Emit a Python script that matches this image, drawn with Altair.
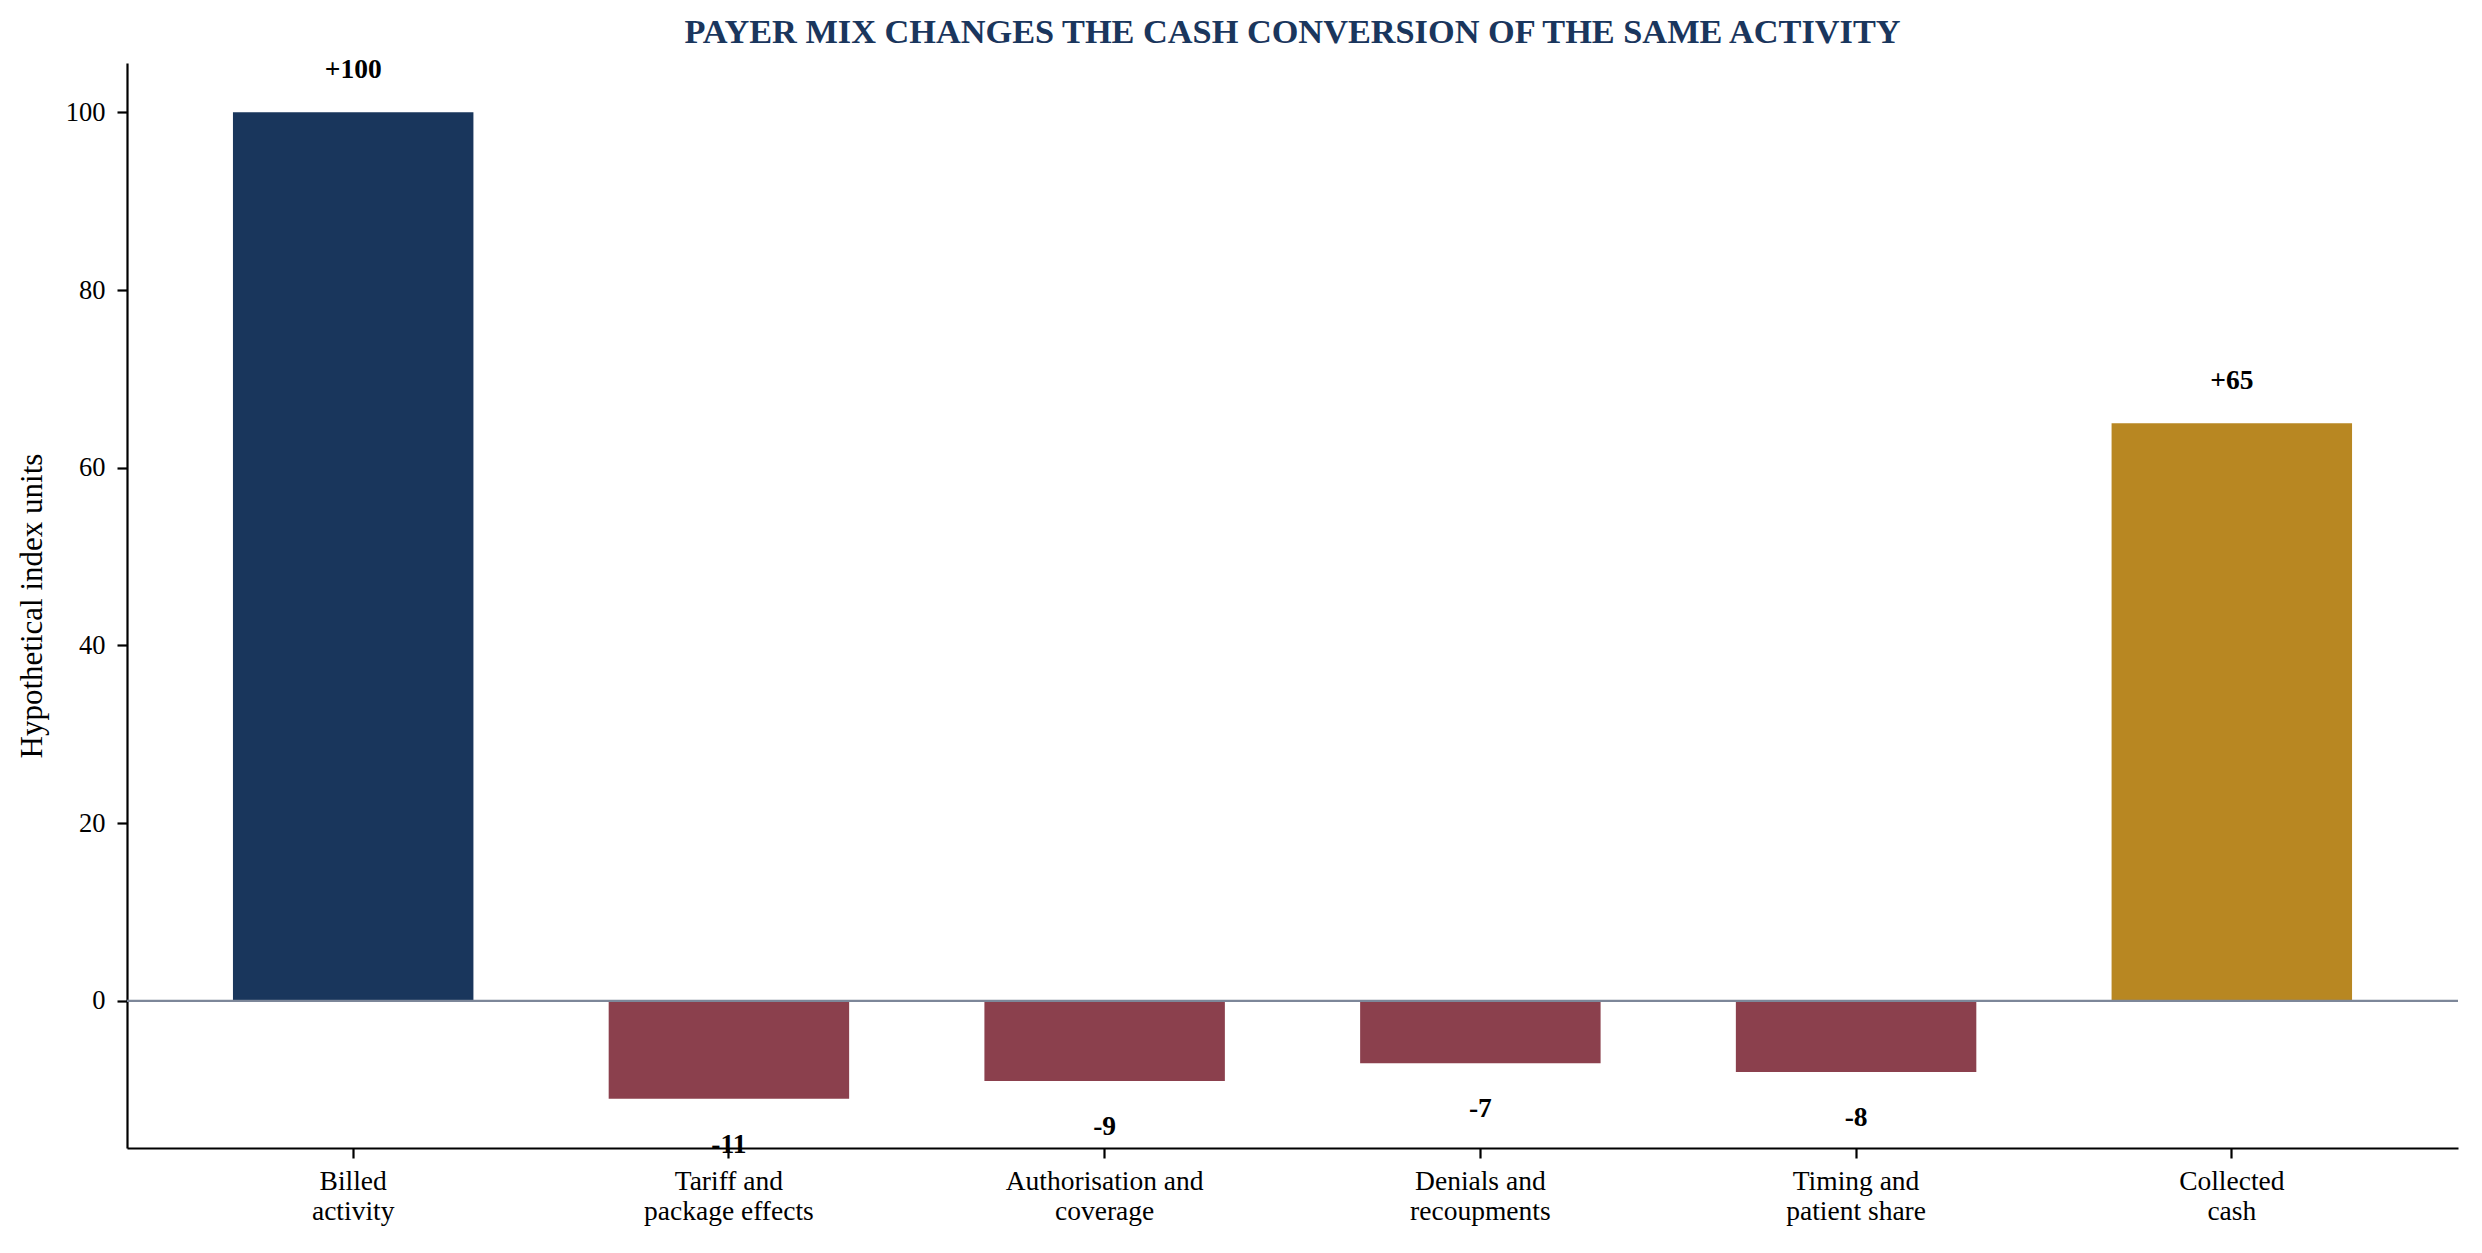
import altair as alt
import pandas as pd

categories = [
    "Billed\nactivity",
    "Tariff and\npackage effects",
    "Authorisation and\ncoverage",
    "Denials and\nrecoupments",
    "Timing and\npatient share",
    "Collected\ncash",
]
values = [100, -11, -9, -7, -8, 65]
kinds = ["start", "step", "step", "step", "step", "end"]

kind_domain = ["start", "step", "end"]
kind_colors = ["#19365C", "#8B404D", "#B88722"]

df = pd.DataFrame({"category": categories, "value": values, "kind": kinds})

FONT = "Liberation Serif"

x_enc = alt.X(
    "category:N",
    sort=categories,
    scale=alt.Scale(paddingInner=0.36, paddingOuter=0.282),
    axis=alt.Axis(
        title=None,
        labelAngle=0,
        labelExpr="split(datum.label, '\\n')",
        labelLineHeight=30,
        labelPadding=9,
        labelBaseline="top",
        labelFontSize=27.5,
        labelLimit=1000,
    ),
)
y_scale = alt.Scale(domain=[-16.55, 105.55], nice=False, zero=False)

base = alt.Chart(df)

bars = base.mark_bar().encode(
    x=x_enc,
    y=alt.Y(
        "value:Q",
        scale=y_scale,
        axis=alt.Axis(
            title="Hypothetical index units",
            values=[0, 20, 40, 60, 80, 100],
            titleFontSize=31,
            titleFontWeight="normal",
            titlePadding=17,
            labelPadding=12,
            labelFontSize=26.5,
        ),
    ),
    color=alt.Color(
        "kind:N",
        scale=alt.Scale(domain=kind_domain, range=kind_colors),
        legend=None,
    ),
)

zero = alt.Chart(pd.DataFrame({"z": [0]})).mark_rule(
    color="#7D8799", strokeWidth=2.2
).encode(y=alt.Y("z:Q", scale=y_scale))

labelled = base.transform_calculate(
    label="(datum.value > 0 ? '+' : '') + datum.value"
)

pos_text = labelled.transform_filter("datum.value >= 0").mark_text(
    font=FONT, fontSize=27.5, fontWeight="bold", color="black",
    baseline="middle", dy=-42,
).encode(x=alt.X("category:N", sort=categories), y=alt.Y("value:Q", scale=y_scale), text="label:N")

neg_text = labelled.transform_filter("datum.value < 0").mark_text(
    font=FONT, fontSize=27.5, fontWeight="bold", color="black",
    baseline="middle", dy=46,
).encode(x=alt.X("category:N", sort=categories), y=alt.Y("value:Q", scale=y_scale), text="label:N")

chart = (
    alt.layer(bars, zero, pos_text, neg_text)
    .properties(
        width=2331,
        height=1085,
        autosize=alt.AutoSizeParams(type="none"),
        padding={"left": 119, "top": 55, "right": 16, "bottom": 97},
        title=alt.TitleParams(
            "PAYER MIX CHANGES THE CASH CONVERSION OF THE SAME ACTIVITY",
            font=FONT,
            fontSize=34.3,
            fontWeight="bold",
            color="#1A365D",
            anchor="middle",
            offset=6,
        ),
    )
    .configure_view(stroke=None)
    .configure_axis(
        grid=False,
        domainColor="black",
        domainWidth=2.2,
        tickColor="black",
        tickWidth=2.2,
        tickSize=10,
        labelFont=FONT,
        labelColor="black",
        titleFont=FONT,
        titleColor="black",
    )
)

chart.save("out.html", embed_options={"renderer": "svg", "actions": False})
